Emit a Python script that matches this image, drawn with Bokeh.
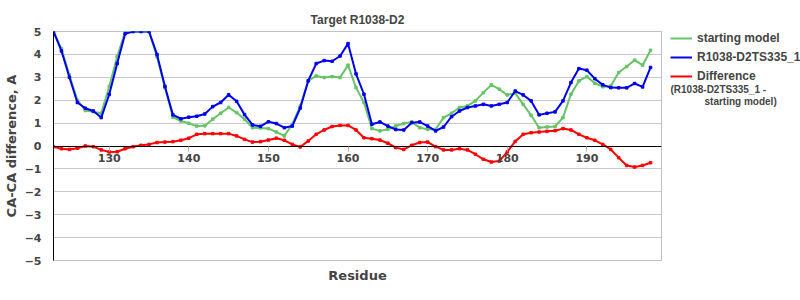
from bokeh.plotting import figure
from bokeh.layouts import row
from bokeh.models import Range1d, Legend, LegendItem, Title, FixedTicker, Label
from bokeh.embed import file_html
from bokeh.resources import INLINE

residues = list(range(123, 199))
starting_model = [5.0, 4.25, 3.1, 2.0, 1.55, 1.5, 1.43, 2.6, 3.9, 5.0,
                  5.0, 5.0, 5.0, 3.9, 2.55, 1.26, 1.09, 0.99, 0.87, 0.88,
                  1.17, 1.43, 1.68, 1.46, 1.17, 0.8, 0.79, 0.76, 0.61, 0.44,
                  0.95, 1.75, 2.84, 3.06, 2.99, 3.03, 2.99, 3.53, 2.55, 1.9,
                  0.76, 0.66, 0.73, 0.87, 0.98, 1.05, 0.8, 0.73, 0.73, 1.24,
                  1.43, 1.68, 1.75, 1.97, 2.33, 2.67, 2.48, 2.23, 2.31, 1.82,
                  1.34, 0.8, 0.83, 0.85, 1.24, 2.26, 2.84, 3.03, 2.74, 2.59,
                  2.62, 3.21, 3.47, 3.75, 3.53, 4.18]
model_ts335 = [5.0, 4.15, 3.0, 1.9, 1.65, 1.53, 1.24, 2.25, 3.6, 4.9,
               5.0, 5.0, 5.0, 4.0, 2.6, 1.36, 1.19, 1.26, 1.3, 1.4,
               1.72, 1.9, 2.24, 1.95, 1.37, 0.92, 0.86, 1.06, 0.98, 0.8,
               0.87, 1.66, 2.85, 3.6, 3.73, 3.7, 3.93, 4.47, 3.15, 2.26,
               0.95, 1.05, 0.87, 0.72, 0.7, 1.02, 1.05, 0.87, 0.66, 0.83,
               1.28, 1.53, 1.68, 1.75, 1.82, 1.75, 1.82, 1.9, 2.4, 2.23,
               1.97, 1.36, 1.43, 1.49, 1.97, 2.77, 3.38, 3.31, 2.94, 2.67,
               2.55, 2.54, 2.54, 2.73, 2.58, 3.43]
difference = [-0.03, -0.12, -0.15, -0.1, 0.0, -0.03, -0.17, -0.26, -0.25, -0.12,
              -0.03, 0.03, 0.07, 0.15, 0.17, 0.19, 0.25, 0.34, 0.51, 0.54,
              0.54, 0.54, 0.54, 0.44, 0.29, 0.17, 0.19, 0.26, 0.34, 0.25,
              0.07, -0.04, 0.22, 0.51, 0.7, 0.85, 0.9, 0.9, 0.7, 0.36,
              0.32, 0.26, 0.12, -0.07, -0.15, 0.03, 0.15, 0.17, -0.03, -0.17,
              -0.17, -0.12, -0.17, -0.36, -0.58, -0.7, -0.66, -0.26, 0.2, 0.51,
              0.58, 0.61, 0.64, 0.67, 0.76, 0.7, 0.51, 0.36, 0.25, 0.07,
              -0.15, -0.51, -0.85, -0.92, -0.85, -0.73]
x_ticks = [130, 140, 150, 160, 170, 180, 190]
y_ticks = [-5, -4, -3, -2, -1, 0, 1, 2, 3, 4, 5]
legend_labels = ["starting model", "R1038-D2TS335_1", "Difference"]
difference_note = ["(R1038-D2TS335_1 -", "starting model)"]

GREEN = "#66c466"
BLUE = "#0000ee"
RED = "#ff0000"
series = [starting_model, model_ts335, difference]
colors = [GREEN, BLUE, RED]

p = figure(width=662, height=300, output_backend="svg", toolbar_location=None,
           x_range=Range1d(123, 199.375), y_range=Range1d(-5, 5),
           min_border_left=50, min_border_right=1, min_border_top=31,
           min_border_bottom=40)
p.title.text = "Target R1038-D2"
p.title.align = "center"
p.title.offset = 13
p.title.text_font = "Liberation Sans"
p.title.text_font_size = "12px"
p.title.text_font_style = "bold"

p.outline_line_color = "#c0c0c0"
p.xgrid.grid_line_color = None
p.ygrid.grid_line_color = "#c8c8c8"
p.ygrid.ticker = FixedTicker(ticks=y_ticks)

# x axis drawn at y = 0
xa = p.xaxis[0]
xa.fixed_location = 0
xa.ticker = FixedTicker(ticks=x_ticks)
xa.axis_line_color = "black"
xa.major_tick_line_color = "#b0b0b0"
xa.major_tick_in = 0
xa.major_tick_out = 5
xa.minor_tick_line_color = None
xa.major_label_text_font = "DejaVu Sans"
xa.major_label_text_font_size = "11px"
xa.major_label_text_font_style = "bold"
xa.major_label_standoff = 3

ya = p.yaxis[0]
ya.ticker = FixedTicker(ticks=y_ticks)
ya.axis_line_color = "black"
ya.major_tick_line_color = None
ya.minor_tick_line_color = None
ya.major_label_text_font = "DejaVu Sans"
ya.major_label_text_font_size = "11px"
ya.major_label_text_font_style = "bold"
ya.major_label_standoff = 6
ya.major_label_overrides = {t: (str(t).replace("-", "\u2212")) for t in y_ticks}
ya.axis_label = "CA-CA difference, A"
ya.axis_label_text_font = "DejaVu Sans"
ya.axis_label_text_font_size = "13px"
ya.axis_label_text_font_style = "bold"
ya.axis_label_standoff = 3

p.add_layout(Title(text="Residue", align="center", offset=22,
                   text_font="DejaVu Sans", text_font_size="13px",
                   text_font_style="bold"), "below")

for vals, c in zip(series, colors):
    p.line(residues, vals, line_color=c, line_width=2)
    p.scatter(residues, vals, marker="square", size=2.5, color=c)

# legend panel on the right: same series, outside this panel's ranges, so
# only their legend glyphs show
lg = figure(width=138, height=300, output_backend="svg", toolbar_location=None,
            x_range=Range1d(0, 1), y_range=Range1d(0, 1), min_border=0,
            x_axis_location=None, y_axis_location=None, title=None)
lg.grid.visible = False
lg.outline_line_color = None
lg_renderers = [lg.line(residues, vals, line_color=c, line_width=2)
                for vals, c in zip(series, colors)]

legend = Legend(items=[LegendItem(label=lab, renderers=[rr])
                       for lab, rr in zip(legend_labels, lg_renderers)],
                location=(8, 177), orientation="vertical",
                border_line_color=None, background_fill_alpha=0,
                padding=0, margin=0, spacing=5,
                glyph_width=22, glyph_height=14, label_standoff=5,
                label_text_font="Liberation Sans", label_text_font_size="12px",
                label_text_font_style="bold", label_height=14)
lg.add_layout(legend, "center")

lg.add_layout(Label(x=8, y=171, x_units="screen", y_units="screen",
                    text=difference_note[0], text_font="Liberation Sans",
                    text_font_size="10px", text_font_style="bold",
                    text_baseline="middle"))
lg.add_layout(Label(x=42, y=159, x_units="screen", y_units="screen",
                    text=difference_note[1], text_font="Liberation Sans",
                    text_font_size="10px", text_font_style="bold",
                    text_baseline="middle"))

layout = row(p, lg, spacing=0)
open("out.html", "w").write(file_html(layout, INLINE))
